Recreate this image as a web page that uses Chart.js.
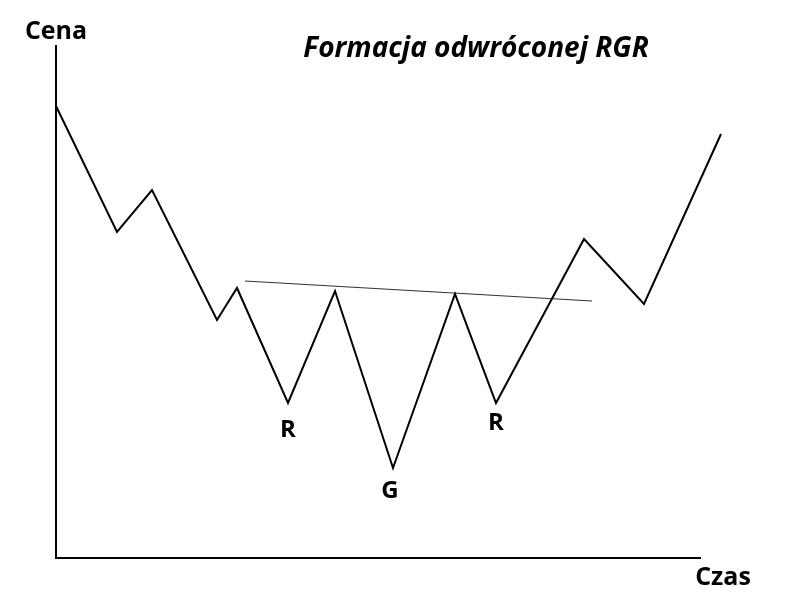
<!DOCTYPE html>
<html>
<head>
<meta charset="utf-8">
<script src="https://cdn.jsdelivr.net/npm/chart.js@4"></script>
<style>
  html, body { margin: 0; padding: 0; background: #fff; }
  #wrap { width: 810px; height: 598px; }
</style>
</head>
<body>
<div id="wrap"><canvas id="myChart" width="810" height="598"></canvas></div>
<script>
// czas (oś X) i cena (oś Y) kolejnych wierzchołków
const czas = [0, 61, 96, 161, 181, 232, 279, 337, 399, 440, 528, 588, 665];
const cena = [452, 326, 368, 238, 270, 155, 267, 90, 264, 155, 319, 254, 424];

// linia szyi
const szyjaCzas = [189, 536];
const szyjaCena = [277, 257];

// podpisy: indeks wierzchołka + tekst
const podpisyIdx = [5, 7, 9];
const podpisyTekst = ['R', 'G', 'R'];

const ctx = document.querySelector('#myChart').getContext('2d');

const textPlugin = {
  id: 'teksty',
  afterDatasetsDraw(chart) {
    const c = chart.ctx;
    const xs = chart.scales.x, ys = chart.scales.y;
    c.save();
    c.fillStyle = '#000';
    c.textAlign = 'center';
    c.textBaseline = 'middle';
    // R G R
    c.font = 'bold 24px "Open Sans"';
    const przes = [27, 23, 20];
    podpisyIdx.forEach((idx, i) => {
      const px = xs.getPixelForValue(czas[idx]);
      const py = ys.getPixelForValue(cena[idx]);
      c.fillText(podpisyTekst[i], px + (i === 1 ? -3 : 0), py + przes[i]);
    });
    // osie
    c.font = 'bold 25px "Open Sans"';
    c.fillText('Cena', 56, 32);
    c.fillText('Czas', 723, 578);
    // tytuł
    c.font = 'italic bold 28px "Open Sans"';
    c.fillText('Formacja odwróconej RGR', 476, 49);
    c.restore();
  }
};

new Chart(ctx, {
  type: 'line',
  data: {
    datasets: [
      {
        data: czas.map((x, i) => ({ x: x, y: cena[i] })),
        borderColor: '#000',
        borderWidth: 2,
        pointRadius: 0,
        tension: 0,
        clip: false
      },
      {
        data: szyjaCzas.map((x, i) => ({ x: x, y: szyjaCena[i] })),
        borderColor: '#333',
        borderWidth: 1.2,
        pointRadius: 0,
        tension: 0,
        clip: false
      }
    ]
  },
  options: {
    responsive: false,
    animation: false,
    layout: { padding: { left: 48, top: 46, right: 110, bottom: 32 } },
    plugins: {
      legend: { display: false },
      tooltip: { enabled: false },
      title: { display: false }
    },
    scales: {
      x: {
        type: 'linear', min: 0, max: 644,
        grid: { display: false },
        ticks: { display: false },
        border: { display: true, color: '#000', width: 2 }
      },
      y: {
        type: 'linear', min: 0, max: 512,
        grid: { display: false },
        ticks: { display: false },
        border: { display: true, color: '#000', width: 2 }
      }
    }
  },
  plugins: [textPlugin]
});
</script>
</body>
</html>
